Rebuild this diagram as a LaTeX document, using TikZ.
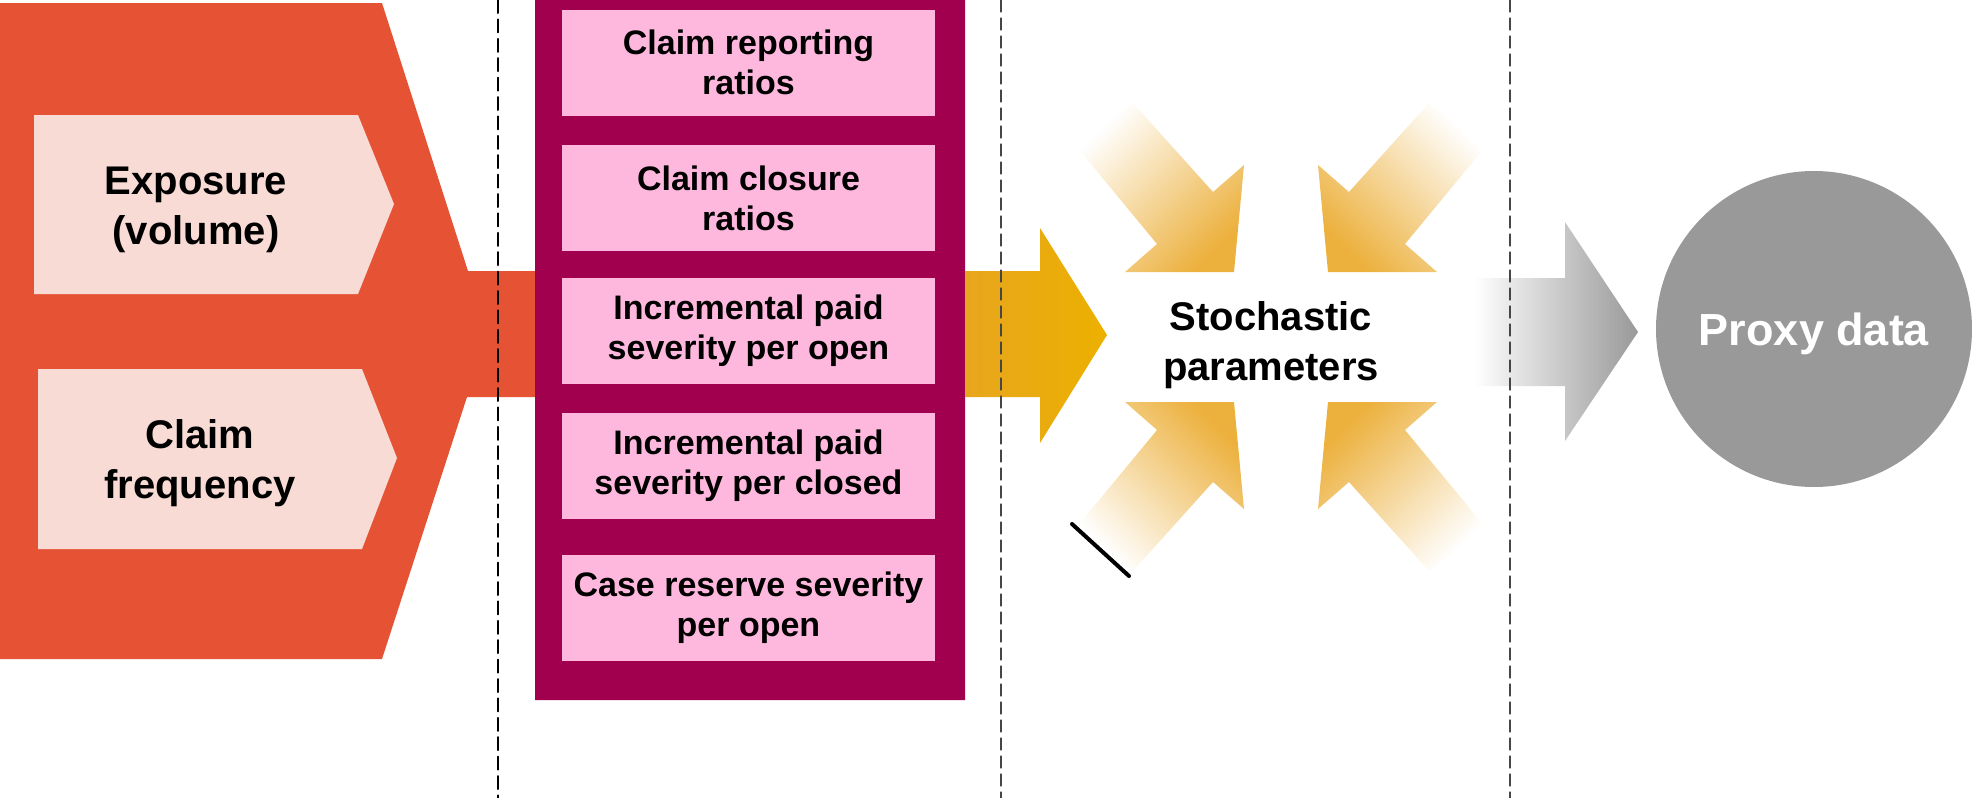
\documentclass[tikz,border=0pt]{standalone}
\usepackage{fontspec}
\setmainfont{Liberation Sans}
\usepackage{tkz-euclide}
\usetikzlibrary{calc}
\definecolor{OrangeClr}{RGB}{229,83,52}
\definecolor{PaleClr}{RGB}{249,219,213}
\definecolor{PlumClr}{RGB}{160,0,78}
\definecolor{PinkClr}{RGB}{254,184,221}
\definecolor{GoldClr}{RGB}{236,176,0}
\definecolor{GoldDarkClr}{RGB}{232,166,30}
\definecolor{FadeClr}{RGB}{236,176,60}
\definecolor{GreyClr}{RGB}{153,153,153}
\definecolor{DashClr}{RGB}{70,70,70}

\tikzset{
  pinkbox/.style={fill=PinkClr,minimum width=186.5pt,minimum height=53pt,
    inner sep=0pt,align=center,font=\bfseries\fontsize{17}{20}\selectfont},
  bigtxt/.style={align=center,font=\bfseries\fontsize{20}{25}\selectfont},
}

\begin{document}
\begin{tikzpicture}[x=.5pt,y=-.5pt]
\useasboundingbox (0,0) rectangle (1972,798);
\tkzSetUpLine[line width=1pt,color=black]

% Left block: the orange funnel and its two inputs.
\tkzDefPoints{0/3/O1,382/3/O2,468/271/O3,540/271/O4,540/397/O5,467/397/O6,382/659/O7,0/659/O8}
\tkzDefPoints{34/115/E1,358/115/E2,394/204/E3,358/294/E4,34/294/E5}
\tkzDefPoints{38/369/F1,362/369/F2,397/458/F3,362/549/F4,38/549/F5}
\tkzFillPolygon[fill=OrangeClr](O1,O2,O3,O4,O5,O6,O7,O8)
\tkzFillPolygon[fill=PaleClr](E1,E2,E3,E4,E5)
\tkzFillPolygon[fill=PaleClr](F1,F2,F3,F4,F5)

% Middle block with the five ratios.
\tkzDefPoints{535/0/P1,965/0/P2,965/700/P3,535/700/P4}
\tkzFillPolygon[fill=PlumClr](P1,P2,P3,P4)

% Gold arrow out of the middle block.
\tkzDefPoints{965/271/G1,1040/271/G2,1040/228/G3,1107/335/G4,1040/443/G5,1040/397/G6,965/397/G7}
\shade[left color=GoldDarkClr,right color=GoldClr] (G1)--(G2)--(G3)--(G4)--(G5)--(G6)--(G7)--cycle;

% The four arrows gathering on the parameters.
\tkzDefPoints{1076/146/a1,1157/244/a2,1125/272/a3,1234/272/a4,1244/165/a5,1213/192/a6,1133/103/a7}
\tkzDefPoints{1486/146/b1,1405/244/b2,1437/272/b3,1328/272/b4,1318/165/b5,1349/192/b6,1429/103/b7}
\tkzDefPoints{1076/528/c1,1157/430/c2,1125/402/c3,1234/402/c4,1244/509/c5,1213/482/c6,1133/571/c7}
\tkzDefPoints{1486/528/d1,1405/430/d2,1437/402/d3,1328/402/d4,1318/509/d5,1349/482/d6,1429/571/d7}
\shade[top color=white,bottom color=FadeClr,shading angle=45] (a1)--(a2)--(a3)--(a4)--(a5)--(a6)--(a7)--cycle;
\shade[top color=white,bottom color=FadeClr,shading angle=-45] (b1)--(b2)--(b3)--(b4)--(b5)--(b6)--(b7)--cycle;
\shade[top color=FadeClr,bottom color=white,shading angle=-45] (c1)--(c2)--(c3)--(c4)--(c5)--(c6)--(c7)--cycle;
\shade[top color=FadeClr,bottom color=white,shading angle=45] (d1)--(d2)--(d3)--(d4)--(d5)--(d6)--(d7)--cycle;

% Grey arrow to the proxy data.
\tkzDefPoints{1474/278/H1,1565/278/H2,1565/222/H3,1638/332/H4,1565/441/H5,1565/386/H6,1474/386/H7}
\shade[left color=white,right color=GreyClr] (H1)--(H2)--(H3)--(H4)--(H5)--(H6)--(H7)--cycle;
\tkzDefPoints{1814/329/C}
\fill[GreyClr] (C) circle (158);

% Stray stroke below the gathering arrows.
\tkzDefPoints{1072/524/K1,1129/576/K2}
\tkzDrawSegment[line width=2pt](K1,K2)

% Column separators.
\tkzDefPoints{498/0/L1,498/798/L2,1001/0/M1,1001/798/M2,1510/0/N1,1510/798/N2}
\tkzDrawSegment[line width=1pt,dash pattern=on 6.5pt off 3.2pt](L1,L2)
\tkzDrawSegments[line width=.6pt,color=DashClr,dash pattern=on 6pt off 3pt](M1,M2 N1,N2)

% Labels.
\node[bigtxt] (expo) at (196,210) {Exposure\\(volume)};
\node[bigtxt] (freq) at (200,463) {Claim\\frequency};
\node[pinkbox] (rep) at (748.5,62.5) {Claim reporting\\ratios};
\node[pinkbox] (clo) at (748.5,198) {Claim closure\\ratios};
\node[pinkbox] (ipo) at (748.5,331) {Incremental paid\\severity per open};
\node[pinkbox] (ipc) at (748.5,466) {Incremental paid\\severity per closed};
\node[pinkbox] (crs) at (748.5,608) {Case reserve severity\\per open};
\node[bigtxt,font=\bfseries\fontsize{20}{25}\selectfont] (stoch) at (1271,345) {Stochastic\\parameters};
\node[text=white,font=\bfseries\fontsize{22.5}{27}\selectfont] (proxy) at (1814,334) {Proxy data};

\end{tikzpicture}
\end{document}
